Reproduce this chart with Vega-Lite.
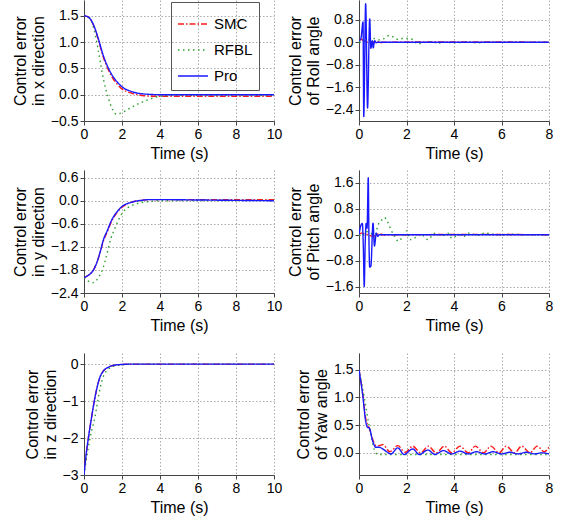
{
"$schema": "https://vega.github.io/schema/vega-lite/v6.json",
"padding": {"left": 12, "top": 0, "right": 5, "bottom": 5},
"background": "white",
"config": {
 "font": "Liberation Sans",
 "view": {"stroke": null},
 "axis": {"labelFontSize": 14, "titleFontSize": 16, "titleFontWeight": "normal", "labelColor": "#000", "titleColor": "#000", "domainColor": "#444", "tickColor": "#444", "gridColor": "#888", "gridDash": [1.5, 2], "gridOpacity": 0.7, "tickSize": 4, "labelPadding": 2, "titlePadding": 4, "labelFlush": false, "labelOverlap": false}
},
"datasets": {
 "d": [
  {"p":"x","s":"SMC","t":0,"v":1.5},{"p":"x","s":"SMC","t":0.25,"v":1.47},{"p":"x","s":"SMC","t":0.5,"v":1.32},{"p":"x","s":"SMC","t":0.75,"v":1.05},{"p":"x","s":"SMC","t":1.0,"v":0.73},{"p":"x","s":"SMC","t":1.25,"v":0.5},{"p":"x","s":"SMC","t":1.5,"v":0.32},{"p":"x","s":"SMC","t":1.75,"v":0.2},{"p":"x","s":"SMC","t":2.0,"v":0.11},{"p":"x","s":"SMC","t":2.5,"v":0.03},{"p":"x","s":"SMC","t":3.0,"v":-0.01},{"p":"x","s":"SMC","t":3.5,"v":-0.03},{"p":"x","s":"SMC","t":4.5,"v":-0.03},{"p":"x","s":"SMC","t":10,"v":-0.03},
  {"p":"x","s":"RFBL","t":0,"v":1.5},{"p":"x","s":"RFBL","t":0.25,"v":1.47},{"p":"x","s":"RFBL","t":0.5,"v":1.28},{"p":"x","s":"RFBL","t":0.75,"v":0.85},{"p":"x","s":"RFBL","t":0.9,"v":0.53},{"p":"x","s":"RFBL","t":1.05,"v":0.25},{"p":"x","s":"RFBL","t":1.26,"v":-0.04},{"p":"x","s":"RFBL","t":1.5,"v":-0.28},{"p":"x","s":"RFBL","t":1.7,"v":-0.37},{"p":"x","s":"RFBL","t":2.0,"v":-0.34},{"p":"x","s":"RFBL","t":2.5,"v":-0.24},{"p":"x","s":"RFBL","t":3.0,"v":-0.15},{"p":"x","s":"RFBL","t":3.5,"v":-0.08},{"p":"x","s":"RFBL","t":4.0,"v":-0.03},{"p":"x","s":"RFBL","t":5.0,"v":-0.01},{"p":"x","s":"RFBL","t":10,"v":-0.01},
  {"p":"x","s":"Pro","t":0,"v":1.5},{"p":"x","s":"Pro","t":0.25,"v":1.47},{"p":"x","s":"Pro","t":0.5,"v":1.33},{"p":"x","s":"Pro","t":0.75,"v":1.07},{"p":"x","s":"Pro","t":1.0,"v":0.76},{"p":"x","s":"Pro","t":1.25,"v":0.53},{"p":"x","s":"Pro","t":1.5,"v":0.36},{"p":"x","s":"Pro","t":1.75,"v":0.24},{"p":"x","s":"Pro","t":2.0,"v":0.15},{"p":"x","s":"Pro","t":2.5,"v":0.06},{"p":"x","s":"Pro","t":3.0,"v":0.02},{"p":"x","s":"Pro","t":4.0,"v":0.0},{"p":"x","s":"Pro","t":10,"v":0.0},

  {"p":"roll","s":"SMC","t":0,"v":0.05},{"p":"roll","s":"SMC","t":0.1,"v":0.1},{"p":"roll","s":"SMC","t":0.2,"v":0.05},{"p":"roll","s":"SMC","t":0.5,"v":0.0},{"p":"roll","s":"SMC","t":0.8,"v":0.03},{"p":"roll","s":"SMC","t":0.9,"v":-0.02},{"p":"roll","s":"SMC","t":1.0,"v":0.0},{"p":"roll","s":"SMC","t":5,"v":0.01},{"p":"roll","s":"SMC","t":8,"v":0.0},
  {"p":"roll","s":"RFBL","t":0,"v":0.0},{"p":"roll","s":"RFBL","t":0.3,"v":0.05},{"p":"roll","s":"RFBL","t":0.63,"v":0.13},{"p":"roll","s":"RFBL","t":0.9,"v":0.08},{"p":"roll","s":"RFBL","t":1.05,"v":0.13},{"p":"roll","s":"RFBL","t":1.27,"v":0.24},{"p":"roll","s":"RFBL","t":1.48,"v":0.17},{"p":"roll","s":"RFBL","t":1.65,"v":0.1},{"p":"roll","s":"RFBL","t":1.83,"v":0.13},{"p":"roll","s":"RFBL","t":2.1,"v":0.13},{"p":"roll","s":"RFBL","t":2.3,"v":0.07},{"p":"roll","s":"RFBL","t":2.45,"v":-0.06},{"p":"roll","s":"RFBL","t":2.7,"v":-0.02},{"p":"roll","s":"RFBL","t":3.0,"v":0.02},{"p":"roll","s":"RFBL","t":3.3,"v":-0.03},{"p":"roll","s":"RFBL","t":3.6,"v":0.0},{"p":"roll","s":"RFBL","t":4.0,"v":-0.02},{"p":"roll","s":"RFBL","t":4.5,"v":0.0},{"p":"roll","s":"RFBL","t":5.0,"v":-0.02},{"p":"roll","s":"RFBL","t":5.5,"v":0.0},{"p":"roll","s":"RFBL","t":8,"v":0.0},
  {"p":"roll","s":"Pro","t":0,"v":0.05},{"p":"roll","s":"Pro","t":0.08,"v":0.13},{"p":"roll","s":"Pro","t":0.17,"v":0.72},{"p":"roll","s":"Pro","t":0.2,"v":-2.64},{"p":"roll","s":"Pro","t":0.28,"v":1.37},{"p":"roll","s":"Pro","t":0.36,"v":-2.34},{"p":"roll","s":"Pro","t":0.45,"v":0.83},{"p":"roll","s":"Pro","t":0.5,"v":-0.22},{"p":"roll","s":"Pro","t":0.56,"v":0.05},{"p":"roll","s":"Pro","t":0.6,"v":-0.2},{"p":"roll","s":"Pro","t":0.66,"v":0.05},{"p":"roll","s":"Pro","t":0.73,"v":-0.02},{"p":"roll","s":"Pro","t":0.8,"v":0.0},{"p":"roll","s":"Pro","t":8,"v":0.0},

  {"p":"y","s":"SMC","t":0,"v":-2.0},{"p":"y","s":"SMC","t":0.25,"v":-1.93},{"p":"y","s":"SMC","t":0.5,"v":-1.8},{"p":"y","s":"SMC","t":0.75,"v":-1.5},{"p":"y","s":"SMC","t":0.9,"v":-1.26},{"p":"y","s":"SMC","t":1.0,"v":-1.08},{"p":"y","s":"SMC","t":1.25,"v":-0.78},{"p":"y","s":"SMC","t":1.42,"v":-0.57},{"p":"y","s":"SMC","t":1.75,"v":-0.3},{"p":"y","s":"SMC","t":2.0,"v":-0.17},{"p":"y","s":"SMC","t":2.5,"v":-0.04},{"p":"y","s":"SMC","t":3.0,"v":0.01},{"p":"y","s":"SMC","t":3.5,"v":0.03},{"p":"y","s":"SMC","t":10,"v":0.03},
  {"p":"y","s":"RFBL","t":0,"v":-2.0},{"p":"y","s":"RFBL","t":0.25,"v":-2.1},{"p":"y","s":"RFBL","t":0.5,"v":-2.13},{"p":"y","s":"RFBL","t":0.75,"v":-2.0},{"p":"y","s":"RFBL","t":1.0,"v":-1.75},{"p":"y","s":"RFBL","t":1.1,"v":-1.59},{"p":"y","s":"RFBL","t":1.25,"v":-1.3},{"p":"y","s":"RFBL","t":1.42,"v":-0.97},{"p":"y","s":"RFBL","t":1.6,"v":-0.75},{"p":"y","s":"RFBL","t":1.77,"v":-0.55},{"p":"y","s":"RFBL","t":2.0,"v":-0.33},{"p":"y","s":"RFBL","t":2.3,"v":-0.18},{"p":"y","s":"RFBL","t":2.63,"v":-0.1},{"p":"y","s":"RFBL","t":3.0,"v":-0.05},{"p":"y","s":"RFBL","t":3.5,"v":-0.02},{"p":"y","s":"RFBL","t":4.0,"v":0.0},{"p":"y","s":"RFBL","t":10,"v":0.01},
  {"p":"y","s":"Pro","t":0,"v":-2.0},{"p":"y","s":"Pro","t":0.25,"v":-1.93},{"p":"y","s":"Pro","t":0.5,"v":-1.8},{"p":"y","s":"Pro","t":0.75,"v":-1.5},{"p":"y","s":"Pro","t":0.9,"v":-1.24},{"p":"y","s":"Pro","t":1.0,"v":-1.05},{"p":"y","s":"Pro","t":1.25,"v":-0.75},{"p":"y","s":"Pro","t":1.42,"v":-0.54},{"p":"y","s":"Pro","t":1.75,"v":-0.28},{"p":"y","s":"Pro","t":2.0,"v":-0.15},{"p":"y","s":"Pro","t":2.5,"v":-0.04},{"p":"y","s":"Pro","t":3.0,"v":0.01},{"p":"y","s":"Pro","t":3.5,"v":0.03},{"p":"y","s":"Pro","t":4.0,"v":0.03},{"p":"y","s":"Pro","t":6.0,"v":0.02},{"p":"y","s":"Pro","t":8.0,"v":0.01},{"p":"y","s":"Pro","t":10,"v":0.0},

  {"p":"pitch","s":"SMC","t":0,"v":0.0},{"p":"pitch","s":"SMC","t":0.1,"v":0.05},{"p":"pitch","s":"SMC","t":0.3,"v":0.02},{"p":"pitch","s":"SMC","t":0.6,"v":-0.05},{"p":"pitch","s":"SMC","t":0.85,"v":0.03},{"p":"pitch","s":"SMC","t":1.0,"v":0.0},{"p":"pitch","s":"SMC","t":5,"v":0.01},{"p":"pitch","s":"SMC","t":8,"v":0.0},
  {"p":"pitch","s":"RFBL","t":0,"v":0.0},{"p":"pitch","s":"RFBL","t":0.1,"v":-0.05},{"p":"pitch","s":"RFBL","t":0.3,"v":0.1},{"p":"pitch","s":"RFBL","t":0.5,"v":0.05},{"p":"pitch","s":"RFBL","t":0.65,"v":-0.1},{"p":"pitch","s":"RFBL","t":0.8,"v":0.3},{"p":"pitch","s":"RFBL","t":0.95,"v":0.45},{"p":"pitch","s":"RFBL","t":1.07,"v":0.53},{"p":"pitch","s":"RFBL","t":1.2,"v":0.4},{"p":"pitch","s":"RFBL","t":1.35,"v":0.15},{"p":"pitch","s":"RFBL","t":1.5,"v":-0.05},{"p":"pitch","s":"RFBL","t":1.65,"v":-0.2},{"p":"pitch","s":"RFBL","t":1.85,"v":-0.05},{"p":"pitch","s":"RFBL","t":2.0,"v":0.12},{"p":"pitch","s":"RFBL","t":2.15,"v":-0.15},{"p":"pitch","s":"RFBL","t":2.35,"v":-0.1},{"p":"pitch","s":"RFBL","t":2.6,"v":0.02},{"p":"pitch","s":"RFBL","t":2.9,"v":-0.15},{"p":"pitch","s":"RFBL","t":3.2,"v":0.05},{"p":"pitch","s":"RFBL","t":3.5,"v":-0.03},{"p":"pitch","s":"RFBL","t":3.75,"v":0.05},{"p":"pitch","s":"RFBL","t":3.9,"v":-0.1},{"p":"pitch","s":"RFBL","t":4.2,"v":0.0},{"p":"pitch","s":"RFBL","t":4.4,"v":-0.05},{"p":"pitch","s":"RFBL","t":4.6,"v":0.05},{"p":"pitch","s":"RFBL","t":5.0,"v":-0.02},{"p":"pitch","s":"RFBL","t":5.3,"v":0.05},{"p":"pitch","s":"RFBL","t":5.6,"v":0.02},{"p":"pitch","s":"RFBL","t":6.0,"v":0.0},{"p":"pitch","s":"RFBL","t":6.5,"v":0.02},{"p":"pitch","s":"RFBL","t":7.0,"v":0.0},{"p":"pitch","s":"RFBL","t":8,"v":0.0},
  {"p":"pitch","s":"Pro","t":0,"v":0.0},{"p":"pitch","s":"Pro","t":0.08,"v":0.29},{"p":"pitch","s":"Pro","t":0.14,"v":0.35},{"p":"pitch","s":"Pro","t":0.18,"v":-0.3},{"p":"pitch","s":"Pro","t":0.22,"v":-1.6},{"p":"pitch","s":"Pro","t":0.26,"v":-0.3},{"p":"pitch","s":"Pro","t":0.3,"v":0.35},{"p":"pitch","s":"Pro","t":0.34,"v":0.2},{"p":"pitch","s":"Pro","t":0.39,"v":1.76},{"p":"pitch","s":"Pro","t":0.42,"v":-0.2},{"p":"pitch","s":"Pro","t":0.45,"v":-1.0},{"p":"pitch","s":"Pro","t":0.5,"v":-0.97},{"p":"pitch","s":"Pro","t":0.59,"v":0.36},{"p":"pitch","s":"Pro","t":0.65,"v":-0.35},{"p":"pitch","s":"Pro","t":0.73,"v":0.05},{"p":"pitch","s":"Pro","t":0.79,"v":-0.05},{"p":"pitch","s":"Pro","t":0.85,"v":0.0},{"p":"pitch","s":"Pro","t":8,"v":0.0},

  {"p":"z","s":"SMC","t":0,"v":-3.0},{"p":"z","s":"SMC","t":0.1,"v":-2.5},{"p":"z","s":"SMC","t":0.23,"v":-2.0},{"p":"z","s":"SMC","t":0.35,"v":-1.6},{"p":"z","s":"SMC","t":0.49,"v":-1.15},{"p":"z","s":"SMC","t":0.65,"v":-0.72},{"p":"z","s":"SMC","t":0.85,"v":-0.34},{"p":"z","s":"SMC","t":1.0,"v":-0.2},{"p":"z","s":"SMC","t":1.3,"v":-0.08},{"p":"z","s":"SMC","t":1.6,"v":-0.03},{"p":"z","s":"SMC","t":2.0,"v":-0.01},{"p":"z","s":"SMC","t":2.5,"v":0.0},{"p":"z","s":"SMC","t":10,"v":0.0},
  {"p":"z","s":"RFBL","t":0,"v":-3.0},{"p":"z","s":"RFBL","t":0.15,"v":-2.5},{"p":"z","s":"RFBL","t":0.32,"v":-2.0},{"p":"z","s":"RFBL","t":0.58,"v":-1.42},{"p":"z","s":"RFBL","t":0.85,"v":-0.65},{"p":"z","s":"RFBL","t":1.0,"v":-0.36},{"p":"z","s":"RFBL","t":1.3,"v":-0.13},{"p":"z","s":"RFBL","t":1.6,"v":-0.05},{"p":"z","s":"RFBL","t":2.0,"v":-0.02},{"p":"z","s":"RFBL","t":2.6,"v":0.0},{"p":"z","s":"RFBL","t":10,"v":0.0},
  {"p":"z","s":"Pro","t":0,"v":-3.0},{"p":"z","s":"Pro","t":0.1,"v":-2.5},{"p":"z","s":"Pro","t":0.23,"v":-2.0},{"p":"z","s":"Pro","t":0.35,"v":-1.6},{"p":"z","s":"Pro","t":0.49,"v":-1.15},{"p":"z","s":"Pro","t":0.65,"v":-0.72},{"p":"z","s":"Pro","t":0.85,"v":-0.34},{"p":"z","s":"Pro","t":1.0,"v":-0.2},{"p":"z","s":"Pro","t":1.3,"v":-0.08},{"p":"z","s":"Pro","t":1.6,"v":-0.03},{"p":"z","s":"Pro","t":2.0,"v":-0.01},{"p":"z","s":"Pro","t":2.5,"v":0.0},{"p":"z","s":"Pro","t":10,"v":0.0},

  {"p":"yaw","s":"SMC","t":0,"v":1.5},{"p":"yaw","s":"SMC","t":0.15,"v":1.1},{"p":"yaw","s":"SMC","t":0.29,"v":0.6},{"p":"yaw","s":"SMC","t":0.43,"v":0.45},{"p":"yaw","s":"SMC","t":0.57,"v":0.25},{"p":"yaw","s":"SMC","t":0.72,"v":0.13},{"p":"yaw","s":"SMC","t":0.85,"v":0.13},{"p":"yaw","s":"SMC","t":1.0,"v":0.15},{"p":"yaw","s":"SMC","t":1.3,"v":0.02},{"p":"yaw","s":"SMC","t":1.63,"v":0.13},{"p":"yaw","s":"SMC","t":1.95,"v":0.01},{"p":"yaw","s":"SMC","t":2.26,"v":0.12},{"p":"yaw","s":"SMC","t":2.6,"v":0.0},{"p":"yaw","s":"SMC","t":2.92,"v":0.12},{"p":"yaw","s":"SMC","t":3.25,"v":0.0},{"p":"yaw","s":"SMC","t":3.6,"v":0.12},{"p":"yaw","s":"SMC","t":3.9,"v":0.0},{"p":"yaw","s":"SMC","t":4.25,"v":0.12},{"p":"yaw","s":"SMC","t":4.6,"v":0.0},{"p":"yaw","s":"SMC","t":4.9,"v":0.12},{"p":"yaw","s":"SMC","t":5.25,"v":0.0},{"p":"yaw","s":"SMC","t":5.55,"v":0.12},{"p":"yaw","s":"SMC","t":5.9,"v":0.0},{"p":"yaw","s":"SMC","t":6.2,"v":0.12},{"p":"yaw","s":"SMC","t":6.55,"v":0.0},{"p":"yaw","s":"SMC","t":6.85,"v":0.12},{"p":"yaw","s":"SMC","t":7.2,"v":0.0},{"p":"yaw","s":"SMC","t":7.5,"v":0.12},{"p":"yaw","s":"SMC","t":7.8,"v":0.02},{"p":"yaw","s":"SMC","t":8,"v":0.1},
  {"p":"yaw","s":"RFBL","t":0,"v":1.5},{"p":"yaw","s":"RFBL","t":0.22,"v":1.0},{"p":"yaw","s":"RFBL","t":0.4,"v":0.55},{"p":"yaw","s":"RFBL","t":0.5,"v":0.34},{"p":"yaw","s":"RFBL","t":0.64,"v":0.06},{"p":"yaw","s":"RFBL","t":0.79,"v":-0.03},{"p":"yaw","s":"RFBL","t":1.0,"v":-0.03},{"p":"yaw","s":"RFBL","t":8,"v":-0.03},
  {"p":"yaw","s":"Pro","t":0,"v":1.5},{"p":"yaw","s":"Pro","t":0.15,"v":1.06},{"p":"yaw","s":"Pro","t":0.29,"v":0.55},{"p":"yaw","s":"Pro","t":0.36,"v":0.46},{"p":"yaw","s":"Pro","t":0.43,"v":0.45},{"p":"yaw","s":"Pro","t":0.57,"v":0.22},{"p":"yaw","s":"Pro","t":0.71,"v":0.1},{"p":"yaw","s":"Pro","t":0.85,"v":0.1},{"p":"yaw","s":"Pro","t":1.0,"v":0.07},{"p":"yaw","s":"Pro","t":1.2,"v":0.01},{"p":"yaw","s":"Pro","t":1.35,"v":-0.02},{"p":"yaw","s":"Pro","t":1.63,"v":0.09},{"p":"yaw","s":"Pro","t":1.9,"v":-0.03},{"p":"yaw","s":"Pro","t":2.26,"v":0.07},{"p":"yaw","s":"Pro","t":2.54,"v":-0.03},{"p":"yaw","s":"Pro","t":2.9,"v":0.05},{"p":"yaw","s":"Pro","t":3.2,"v":-0.03},{"p":"yaw","s":"Pro","t":3.55,"v":0.04},{"p":"yaw","s":"Pro","t":3.9,"v":-0.02},{"p":"yaw","s":"Pro","t":4.25,"v":0.03},{"p":"yaw","s":"Pro","t":4.6,"v":-0.02},{"p":"yaw","s":"Pro","t":4.95,"v":0.02},{"p":"yaw","s":"Pro","t":5.3,"v":-0.02},{"p":"yaw","s":"Pro","t":5.65,"v":0.02},{"p":"yaw","s":"Pro","t":6.0,"v":-0.02},{"p":"yaw","s":"Pro","t":6.35,"v":0.01},{"p":"yaw","s":"Pro","t":6.7,"v":-0.02},{"p":"yaw","s":"Pro","t":7.05,"v":0.01},{"p":"yaw","s":"Pro","t":7.4,"v":-0.02},{"p":"yaw","s":"Pro","t":7.7,"v":0.0},{"p":"yaw","s":"Pro","t":8,"v":-0.02}
 ]
},
"resolve": {"scale": {"color": "independent", "strokeDash": "independent"}, "legend": {"color": "independent", "strokeDash": "independent"}},
"bounds": "full",
"spacing": 20,
"vconcat": [
 {
  "resolve": {"scale": {"color": "independent", "strokeDash": "independent"}, "legend": {"color": "independent", "strokeDash": "independent"}},
  "bounds": "full",
  "spacing": 9,
  "vconcat": [
   {
    "resolve": {"scale": {"color": "independent", "strokeDash": "independent"}, "legend": {"color": "independent", "strokeDash": "independent"}},
    "bounds": "flush",
    "spacing": 85,
    "hconcat": [
     {
      "width": 190, "height": 121,
      "data": {"name": "d"},
      "transform": [{"filter": "datum.p == 'x'"}],
      "mark": {"type": "line", "interpolate": "monotone", "clip": true, "strokeWidth": 1.4},
      "encoding": {
       "x": {"field": "t", "type": "quantitative", "scale": {"domain": [0, 10], "nice": false}, "axis": {"title": "Time (s)", "values": [0, 2, 4, 6, 8, 10]}},
       "y": {"field": "v", "type": "quantitative", "scale": {"domain": [-0.5, 1.8], "nice": false, "zero": false}, "axis": {"title": ["Control error", "in x direction"], "values": [-0.5, 0, 0.5, 1, 1.5], "format": ".1f"}},
       "color": {"field": "s", "type": "nominal", "scale": {"domain": ["SMC", "RFBL", "Pro"], "range": ["#ff1a1a", "#2ca02c", "#1a1aff"]}, "legend": {"title": null, "orient": "none", "legendX": 87, "legendY": 2, "strokeColor": "#555", "padding": 6, "labelFontSize": 15, "labelColor": "#000", "symbolType": "stroke", "symbolSize": 900, "symbolStrokeWidth": 1.5, "rowPadding": 2, "labelOffset": 5}},
       "strokeDash": {"field": "s", "type": "nominal", "scale": {"domain": ["SMC", "RFBL", "Pro"], "range": [[6, 2, 1.5, 2], [1.5, 3.5], [1, 0]]}, "legend": {"title": null, "orient": "none", "legendX": 87, "legendY": 2, "strokeColor": "#555", "padding": 6, "labelFontSize": 15, "labelColor": "#000", "symbolType": "stroke", "symbolSize": 900, "symbolStrokeWidth": 1.5, "rowPadding": 2, "labelOffset": 5}}
      }
     },
     {
      "width": 190, "height": 121,
      "data": {"name": "d"},
      "transform": [{"filter": "datum.p == 'roll'"}],
      "mark": {"type": "line", "interpolate": "monotone", "clip": true, "strokeWidth": 1.4},
      "encoding": {
       "x": {"field": "t", "type": "quantitative", "scale": {"domain": [0, 8], "nice": false}, "axis": {"title": "Time (s)", "values": [0, 2, 4, 6, 8]}},
       "y": {"field": "v", "type": "quantitative", "scale": {"domain": [-2.8, 1.5], "nice": false, "zero": false}, "axis": {"title": ["Control error", "of Roll angle"], "values": [-2.4, -1.6, -0.8, 0, 0.8], "format": ".1f"}},
       "color": {"field": "s", "type": "nominal", "scale": {"domain": ["SMC", "RFBL", "Pro"], "range": ["#ff1a1a", "#2ca02c", "#1a1aff"]}, "legend": null},
       "strokeDash": {"field": "s", "type": "nominal", "scale": {"domain": ["SMC", "RFBL", "Pro"], "range": [[6, 2, 1.5, 2], [1.5, 3.5], [1, 0]]}, "legend": null}
      }
     }
    ]
   },
   {
    "resolve": {"scale": {"color": "independent", "strokeDash": "independent"}, "legend": {"color": "independent", "strokeDash": "independent"}},
    "bounds": "flush",
    "spacing": 85,
    "hconcat": [
     {
      "width": 190, "height": 123,
      "data": {"name": "d"},
      "transform": [{"filter": "datum.p == 'y'"}],
      "mark": {"type": "line", "interpolate": "monotone", "clip": true, "strokeWidth": 1.4},
      "encoding": {
       "x": {"field": "t", "type": "quantitative", "scale": {"domain": [0, 10], "nice": false}, "axis": {"title": "Time (s)", "values": [0, 2, 4, 6, 8, 10]}},
       "y": {"field": "v", "type": "quantitative", "scale": {"domain": [-2.4, 0.8], "nice": false, "zero": false}, "axis": {"title": ["Control error", "in y direction"], "values": [-2.4, -1.8, -1.2, -0.6, 0, 0.6], "format": ".1f"}},
       "color": {"field": "s", "type": "nominal", "scale": {"domain": ["SMC", "RFBL", "Pro"], "range": ["#ff1a1a", "#2ca02c", "#1a1aff"]}, "legend": null},
       "strokeDash": {"field": "s", "type": "nominal", "scale": {"domain": ["SMC", "RFBL", "Pro"], "range": [[6, 2, 1.5, 2], [1.5, 3.5], [1, 0]]}, "legend": null}
      }
     },
     {
      "width": 190, "height": 123,
      "data": {"name": "d"},
      "transform": [{"filter": "datum.p == 'pitch'"}],
      "mark": {"type": "line", "interpolate": "monotone", "clip": true, "strokeWidth": 1.4},
      "encoding": {
       "x": {"field": "t", "type": "quantitative", "scale": {"domain": [0, 8], "nice": false}, "axis": {"title": "Time (s)", "values": [0, 2, 4, 6, 8]}},
       "y": {"field": "v", "type": "quantitative", "scale": {"domain": [-1.8, 2.0], "nice": false, "zero": false}, "axis": {"title": ["Control error", "of Pitch angle"], "values": [-1.6, -0.8, 0, 0.8, 1.6], "format": ".1f"}},
       "color": {"field": "s", "type": "nominal", "scale": {"domain": ["SMC", "RFBL", "Pro"], "range": ["#ff1a1a", "#2ca02c", "#1a1aff"]}, "legend": null},
       "strokeDash": {"field": "s", "type": "nominal", "scale": {"domain": ["SMC", "RFBL", "Pro"], "range": [[6, 2, 1.5, 2], [1.5, 3.5], [1, 0]]}, "legend": null}
      }
     }
    ]
   }
  ]
 },
 {
  "resolve": {"scale": {"color": "independent", "strokeDash": "independent"}, "legend": {"color": "independent", "strokeDash": "independent"}},
  "bounds": "flush",
  "spacing": 85,
  "hconcat": [
   {
    "width": 190, "height": 122,
    "data": {"name": "d"},
    "transform": [{"filter": "datum.p == 'z'"}],
    "mark": {"type": "line", "interpolate": "monotone", "clip": true, "strokeWidth": 1.4},
    "encoding": {
     "x": {"field": "t", "type": "quantitative", "scale": {"domain": [0, 10], "nice": false}, "axis": {"title": "Time (s)", "values": [0, 2, 4, 6, 8, 10]}},
     "y": {"field": "v", "type": "quantitative", "scale": {"domain": [-3, 0.3], "nice": false, "zero": false}, "axis": {"title": ["Control error", "in z direction"], "values": [-3, -2, -1, 0], "format": "d"}},
     "color": {"field": "s", "type": "nominal", "scale": {"domain": ["SMC", "RFBL", "Pro"], "range": ["#ff1a1a", "#2ca02c", "#1a1aff"]}, "legend": null},
     "strokeDash": {"field": "s", "type": "nominal", "scale": {"domain": ["SMC", "RFBL", "Pro"], "range": [[6, 2, 1.5, 2], [1.5, 3.5], [1, 0]]}, "legend": null}
    }
   },
   {
    "width": 190, "height": 122,
    "data": {"name": "d"},
    "transform": [{"filter": "datum.p == 'yaw'"}],
    "mark": {"type": "line", "interpolate": "monotone", "clip": true, "strokeWidth": 1.4},
    "encoding": {
     "x": {"field": "t", "type": "quantitative", "scale": {"domain": [0, 8], "nice": false}, "axis": {"title": "Time (s)", "values": [0, 2, 4, 6, 8]}},
     "y": {"field": "v", "type": "quantitative", "scale": {"domain": [-0.4, 1.8], "nice": false, "zero": false}, "axis": {"title": ["Control error", "of Yaw angle"], "values": [0, 0.5, 1, 1.5], "format": ".1f"}},
     "color": {"field": "s", "type": "nominal", "scale": {"domain": ["SMC", "RFBL", "Pro"], "range": ["#ff1a1a", "#2ca02c", "#1a1aff"]}, "legend": null},
     "strokeDash": {"field": "s", "type": "nominal", "scale": {"domain": ["SMC", "RFBL", "Pro"], "range": [[6, 2, 1.5, 2], [1.5, 3.5], [1, 0]]}, "legend": null}
    }
   }
  ]
 }
]
}
